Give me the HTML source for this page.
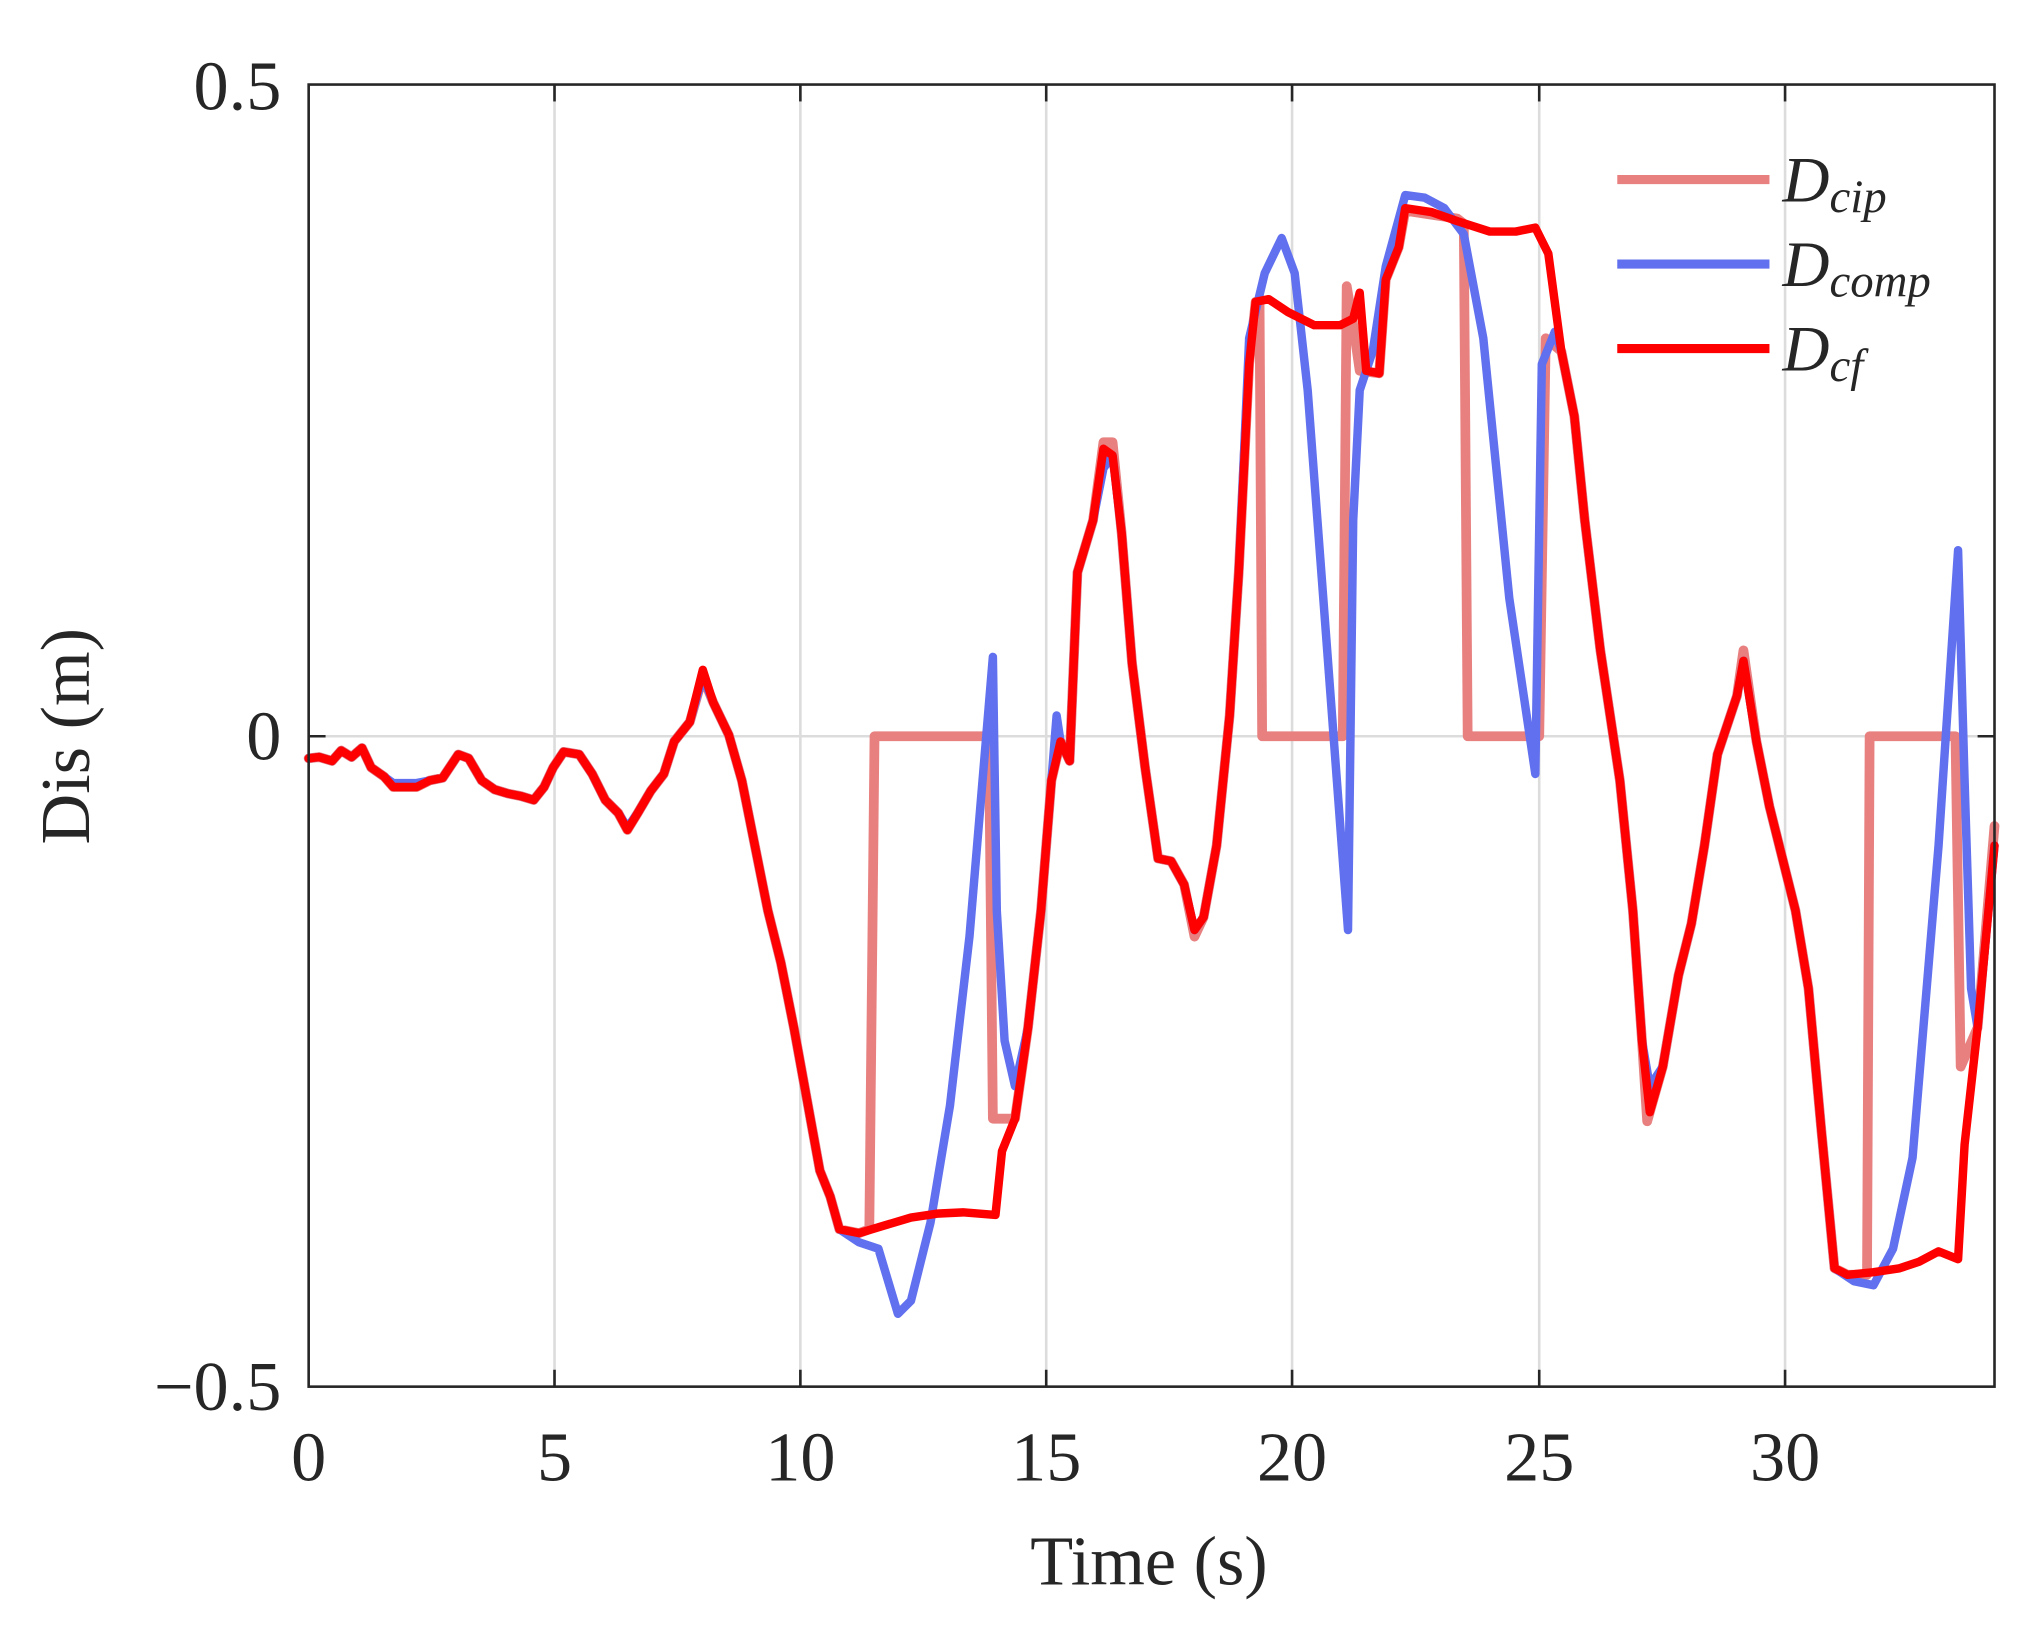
<!DOCTYPE html>
<html><head><style>html,body{margin:0;padding:0;background:#fff}svg{display:block}</style></head>
<body>
<svg width="2030" height="1626" viewBox="0 0 1560 1250" xmlns="http://www.w3.org/2000/svg" font-family="Liberation Serif, serif">
<rect width="1560" height="1250" fill="#fff"/>
<g stroke="#dcdcdc" stroke-width="2">
<line x1="426" y1="65" x2="426" y2="1066"/><line x1="615" y1="65" x2="615" y2="1066"/><line x1="804" y1="65" x2="804" y2="1066"/><line x1="993" y1="65" x2="993" y2="1066"/><line x1="1183" y1="65" x2="1183" y2="1066"/><line x1="1372" y1="65" x2="1372" y2="1066"/><line x1="237" y1="566" x2="1533" y2="566"/>
</g>
<g fill="none" stroke-linejoin="round" stroke-linecap="round">
<polyline stroke="#e88080" stroke-width="7.5" points="237,583 245,582 255,585 262,577 270,582 278,575 285,590 295,597 302,605 320,605 330,600 340,598 352,580 360,583 370,600 380,607 390,610 400,612 410,615 418,605 425,590 433,578 445,580 455,595 465,615 475,625 482,638 490,625 500,608 510,595 518,570 530,555 540,520 548,540 560,565 570,600 580,650 590,700 600,740 610,790 620,845 630,900 638,920 645,945 660,948 668,945 672,566 760,566 763,860 780,860 790,790 800,700 808,600 815,570 822,585 828,440 840,400 848,340 855,340 862,410 870,510 880,590 890,660 900,662 910,680 918,720 925,705 935,650 945,550 952,440 960,280 965,232 968,232 970,566 1032,566 1035,220 1040,250 1045,285 1060,287 1065,215 1075,190 1080,162 1100,165 1120,168 1125,172 1128,566 1183,566 1188,260 1200,270 1210,320 1218,400 1230,500 1245,600 1255,700 1262,800 1266,862 1278,820 1290,750 1300,710 1310,650 1320,580 1335,535 1340,500 1350,570 1360,620 1370,660 1380,700 1390,760 1400,870 1410,975 1420,980 1435,980 1437,566 1503,566 1507,820 1520,790 1533,635"/>
<polyline stroke="#6070ee" stroke-width="6.5" points="237,583 245,582 255,585 262,577 270,582 278,575 285,590 295,597 302,602 320,602 330,600 340,598 352,580 360,583 370,600 380,607 390,610 400,612 410,615 418,605 425,590 433,578 445,580 455,595 465,615 475,625 482,636 490,625 500,608 510,595 518,570 530,555 540,520 548,540 560,565 570,600 580,650 590,700 600,740 610,790 620,845 630,900 638,920 645,945 660,955 675,960 690,1010 700,1000 715,940 730,850 745,720 763,505 766,700 772,800 780,835 790,790 800,700 808,600 812,550 815,570 822,585 828,440 840,400 848,360 855,350 862,410 870,510 880,590 890,660 900,662 910,680 918,715 925,705 935,650 945,550 952,440 960,260 972,210 985,183 995,210 1005,300 1020,500 1036,715 1040,400 1045,300 1055,270 1065,205 1080,150 1095,152 1110,160 1125,180 1140,260 1160,460 1180,595 1185,280 1195,255 1200,270 1210,320 1218,400 1230,500 1245,600 1255,700 1262,800 1268,835 1278,820 1290,750 1300,710 1310,650 1320,580 1335,535 1340,508 1350,570 1360,620 1370,660 1380,700 1390,760 1400,870 1410,975 1425,985 1440,988 1455,960 1470,890 1490,650 1505,423 1510,600 1515,760 1520,790 1533,650"/>
<polyline stroke="#ff0000" stroke-width="6.5" points="237,583 245,582 255,585 262,577 270,582 278,575 285,590 295,597 302,605 320,605 330,600 340,598 352,580 360,583 370,600 380,607 390,610 400,612 410,615 418,605 425,590 433,578 445,580 455,595 465,615 475,625 482,638 490,625 500,608 510,595 518,570 530,555 540,515 548,540 560,565 570,600 580,650 590,700 600,740 610,790 620,845 630,900 638,920 645,945 660,948 680,942 700,936 720,933 740,932 765,934 770,885 780,860 790,790 800,700 808,600 815,570 822,585 828,440 840,400 848,345 855,350 862,410 870,510 880,590 890,660 900,662 910,680 918,715 925,705 935,650 945,550 952,440 960,280 965,232 975,230 990,240 1010,250 1030,250 1040,245 1045,225 1050,285 1060,287 1065,215 1075,190 1080,160 1100,163 1120,170 1145,178 1165,178 1180,175 1190,195 1200,270 1210,320 1218,400 1230,500 1245,600 1255,700 1262,800 1268,855 1278,820 1290,750 1300,710 1310,650 1320,580 1335,535 1340,508 1350,570 1360,620 1370,660 1380,700 1390,760 1400,870 1410,975 1420,980 1440,978 1460,975 1475,970 1490,962 1505,968 1510,880 1520,790 1533,650"/>
</g>
<rect x="237" y="65" width="1296" height="1001" fill="none" stroke="#262626" stroke-width="2"/>
<g stroke="#262626" stroke-width="2">
<line x1="426" y1="1066" x2="426" y2="1053"/><line x1="615" y1="1066" x2="615" y2="1053"/><line x1="804" y1="1066" x2="804" y2="1053"/><line x1="993" y1="1066" x2="993" y2="1053"/><line x1="1183" y1="1066" x2="1183" y2="1053"/><line x1="1372" y1="1066" x2="1372" y2="1053"/>
<line x1="426" y1="65" x2="426" y2="78"/><line x1="615" y1="65" x2="615" y2="78"/><line x1="804" y1="65" x2="804" y2="78"/><line x1="993" y1="65" x2="993" y2="78"/><line x1="1183" y1="65" x2="1183" y2="78"/><line x1="1372" y1="65" x2="1372" y2="78"/>
<line x1="237" y1="566" x2="250" y2="566"/><line x1="1533" y1="566" x2="1520" y2="566"/>
</g>
<g fill="#262626" font-size="54">
<g text-anchor="middle"><text x="237" y="1138">0</text><text x="426" y="1138">5</text><text x="615" y="1138">10</text><text x="804" y="1138">15</text><text x="993" y="1138">20</text><text x="1183" y="1138">25</text><text x="1372" y="1138">30</text></g>
<g text-anchor="end"><text x="216" y="84">0.5</text><text x="216" y="584">0</text><text x="216" y="1084">−0.5</text></g>
<text x="883" y="1218" text-anchor="middle">Time (s)</text>
<text transform="translate(68,566) rotate(-90)" text-anchor="middle">Dis (m)</text>
</g>
<g stroke-width="7"><line x1="1243" y1="138" x2="1360" y2="138" stroke="#e88080"/><line x1="1243" y1="203" x2="1360" y2="203" stroke="#6070ee"/><line x1="1243" y1="268" x2="1360" y2="268" stroke="#ff0000"/></g>
<g fill="#262626" font-size="50" font-style="italic">
<text x="1370" y="155">D<tspan font-size="36" dy="8">cip</tspan></text>
<text x="1370" y="220">D<tspan font-size="36" dy="8">comp</tspan></text>
<text x="1370" y="285">D<tspan font-size="36" dy="8">cf</tspan></text>
</g>
</svg>
</body></html>
